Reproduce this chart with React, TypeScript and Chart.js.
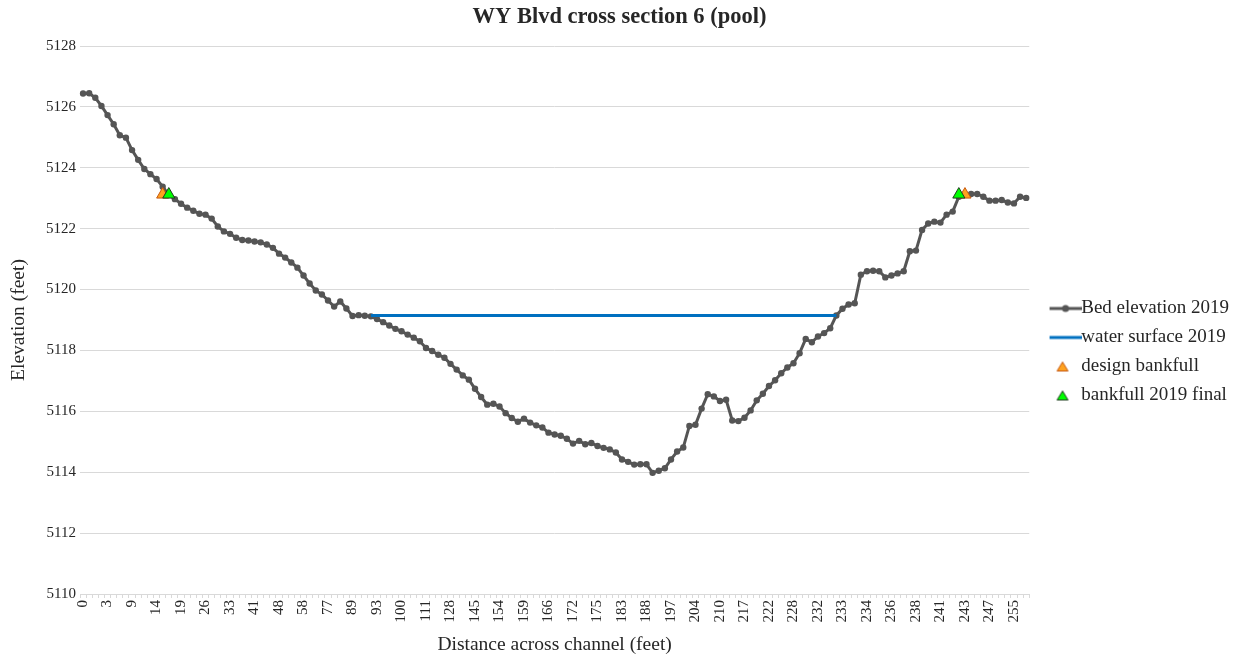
import React, { useEffect, useRef } from "react";
import { Chart, registerables } from "chart.js";

Chart.register(...registerables);

const distanceLabels = [
  "0", "1", "2", "2", "3", "5", "6", "8", "9", "10", "12", "13", "14", "15", "16", "17",
  "19", "20", "22", "24", "26", "27", "29", "31", "33", "35", "37", "39", "41", "43", "45", "46",
  "48", "51", "53", "56", "58", "63", "68", "72", "77", "80", "83", "86", "89", "90", "91", "92",
  "93", "95", "97", "98", "100", "103", "106", "108", "111", "115", "119", "124", "128", "132", "136", "141",
  "145", "147", "150", "152", "154", "155", "156", "158", "159", "161", "163", "164", "166", "168", "169", "171",
  "172", "173", "174", "174", "175", "177", "179", "181", "183", "184", "185", "187", "188", "190", "192", "195",
  "197", "199", "200", "202", "204", "205", "207", "208", "210", "212", "214", "215", "217", "218", "219", "221",
  "222", "223", "225", "226", "228", "229", "230", "231", "232", "232", "232", "233", "233", "233", "234", "234",
  "234", "235", "235", "236", "236", "237", "237", "238", "238", "239", "240", "240", "241", "242", "242", "243",
  "243", "244", "245", "246", "247", "249", "251", "253", "255", "256", "257",
];

const bedElevation2019 = [
  5126.44, 5126.45, 5126.30, 5126.03, 5125.73, 5125.43, 5125.07, 5124.99, 5124.58, 5124.26,
  5123.96, 5123.79, 5123.63, 5123.38, 5123.11, 5122.97, 5122.82, 5122.69, 5122.59, 5122.49,
  5122.46, 5122.33, 5122.07, 5121.91, 5121.83, 5121.70, 5121.63, 5121.61, 5121.58, 5121.55,
  5121.48, 5121.37, 5121.18, 5121.05, 5120.89, 5120.72, 5120.46, 5120.20, 5119.97, 5119.84,
  5119.64, 5119.44, 5119.61, 5119.38, 5119.13, 5119.16, 5119.14, 5119.12, 5119.03, 5118.93,
  5118.82, 5118.71, 5118.63, 5118.52, 5118.42, 5118.30, 5118.08, 5117.98, 5117.86, 5117.76,
  5117.56, 5117.37, 5117.18, 5117.04, 5116.74, 5116.47, 5116.22, 5116.25, 5116.16, 5115.94,
  5115.78, 5115.66, 5115.76, 5115.63, 5115.54, 5115.47, 5115.30, 5115.24, 5115.20, 5115.10,
  5114.94, 5115.03, 5114.92, 5114.96, 5114.86, 5114.80, 5114.75, 5114.65, 5114.42, 5114.34,
  5114.25, 5114.26, 5114.26, 5113.98, 5114.05, 5114.13, 5114.42, 5114.68, 5114.81, 5115.52,
  5115.56, 5116.09, 5116.56, 5116.49, 5116.34, 5116.38, 5115.70, 5115.68, 5115.79, 5116.03,
  5116.36, 5116.58, 5116.83, 5117.02, 5117.25, 5117.44, 5117.58, 5117.91, 5118.38, 5118.27,
  5118.46, 5118.57, 5118.73, 5119.15, 5119.37, 5119.51, 5119.55, 5120.49, 5120.60, 5120.62,
  5120.60, 5120.40, 5120.46, 5120.53, 5120.60, 5121.26, 5121.28, 5121.96, 5122.17, 5122.23,
  5122.20, 5122.46, 5122.56, 5123.05, 5123.11, 5123.14, 5123.14, 5123.05, 5122.92, 5122.92,
  5122.94, 5122.86, 5122.83, 5123.05, 5123.01,
];

const waterSurfaceIdx = [47, 123];
const waterSurfaceElev = [5119.15, 5119.15];

const designBankfullIdx = [13, 144];
const designBankfullElev = [5123.12, 5123.12];

const finalBankfullIdx = [14, 143];
const finalBankfullElev = [5123.12, 5123.12];

const yTicks = [5110, 5112, 5114, 5116, 5118, 5120, 5122, 5124, 5126, 5128];

const BED_COLOR = "#555555";
const WATER_COLOR = "#0070C0";
const DESIGN_FILL = "#FFA21F";
const DESIGN_BORDER = "#C65911";
const FINAL_FILL = "#00FF00";
const FINAL_BORDER = "#1f3d1f";
const TEXT_COLOR = "#262626";
const GRID_COLOR = "#d9d9d9";
const FONT = "'Liberation Serif', 'Times New Roman', serif";

function sparse(idx: number[], vals: number[]) {
  return distanceLabels.map((_, i) => {
    const k = idx.indexOf(i);
    return k >= 0 ? vals[k] : null;
  });
}

// legend icons: 52px wide, drawn content sits in the right part (x 20..52)
function lineIcon(color: string, withDot: boolean) {
  const c = document.createElement("canvas");
  c.width = 52;
  c.height = 10;
  const ctx = c.getContext("2d")!;
  ctx.strokeStyle = color;
  ctx.lineWidth = 3;
  ctx.beginPath();
  ctx.moveTo(20, 5);
  ctx.lineTo(52, 5);
  ctx.stroke();
  if (withDot) {
    ctx.fillStyle = color;
    ctx.beginPath();
    ctx.arc(36, 5, 3.5, 0, Math.PI * 2);
    ctx.fill();
  }
  return c;
}

function triIcon(fill: string, border: string) {
  const c = document.createElement("canvas");
  c.width = 52;
  c.height = 12;
  const ctx = c.getContext("2d")!;
  ctx.fillStyle = fill;
  ctx.strokeStyle = border;
  ctx.lineWidth = 1;
  ctx.beginPath();
  ctx.moveTo(33, 1.5);
  ctx.lineTo(38.5, 10.5);
  ctx.lineTo(27.5, 10.5);
  ctx.closePath();
  ctx.fill();
  ctx.stroke();
  return c;
}

export default function App() {
  const ref = useRef<HTMLCanvasElement | null>(null);

  useEffect(() => {
    if (!ref.current) return;
    const icons = [
      lineIcon(BED_COLOR, true),
      lineIcon(WATER_COLOR, false),
      triIcon(DESIGN_FILL, DESIGN_BORDER),
      triIcon(FINAL_FILL, FINAL_BORDER),
    ];
    const chart = new Chart(ref.current, {
      type: "line",
      data: {
        labels: distanceLabels,
        datasets: [
          {
            label: "Bed elevation 2019",
            data: bedElevation2019,
            borderColor: BED_COLOR,
            backgroundColor: BED_COLOR,
            borderWidth: 3,
            pointRadius: 3.2,
            pointBorderWidth: 0,
            pointBackgroundColor: BED_COLOR,
            tension: 0,
            order: 3,
          },
          {
            label: "water surface 2019",
            data: sparse(waterSurfaceIdx, waterSurfaceElev),
            borderColor: WATER_COLOR,
            backgroundColor: WATER_COLOR,
            borderWidth: 3,
            pointRadius: 0,
            spanGaps: true,
            order: 2,
          },
          {
            label: "design bankfull",
            data: sparse(designBankfullIdx, designBankfullElev),
            showLine: false,
            pointStyle: "triangle",
            pointRadius: 7,
            pointBackgroundColor: DESIGN_FILL,
            pointBorderColor: DESIGN_BORDER,
            pointBorderWidth: 1,
            borderColor: DESIGN_BORDER,
            backgroundColor: DESIGN_FILL,
            order: 1,
          },
          {
            label: "bankfull 2019 final",
            data: sparse(finalBankfullIdx, finalBankfullElev),
            showLine: false,
            pointStyle: "triangle",
            pointRadius: 7,
            pointBackgroundColor: FINAL_FILL,
            pointBorderColor: FINAL_BORDER,
            pointBorderWidth: 1,
            borderColor: FINAL_BORDER,
            backgroundColor: FINAL_FILL,
            order: 0,
          },
        ],
      },
      options: {
        animation: false,
        responsive: true,
        maintainAspectRatio: false,
        layout: { padding: { left: 0, right: 4, top: 0, bottom: 0 } },
        plugins: {
          title: {
            display: true,
            text: "WY Blvd cross section 6 (pool)",
            color: TEXT_COLOR,
            font: { family: FONT, size: 22.5, weight: "bold" },
            padding: { top: 4, bottom: 15 },
          },
          tooltip: { enabled: false },
          legend: {
            position: "right",
            align: "center",
            title: {
              display: true,
              text: "",
              font: { size: 10 },
              padding: { top: 0, bottom: 33 },
            },
            labels: {
              usePointStyle: true,
              pointStyleWidth: 32.5,
              padding: 10,
              color: TEXT_COLOR,
              font: { family: FONT, size: 19 },
              sort: (a: any, b: any) => a.datasetIndex - b.datasetIndex,
              generateLabels: (ch: any) =>
                ch.data.datasets.map((ds: any, i: number) => ({
                  text: ds.label,
                  datasetIndex: i,
                  pointStyle: icons[i],
                  fillStyle: "transparent",
                  strokeStyle: "transparent",
                  lineWidth: 0,
                  fontColor: TEXT_COLOR,
                  hidden: false,
                })),
            },
          },
        },
        scales: {
          x: {
            type: "category",
            offset: true,
            afterFit: (s: any) => {
              s.height = 65;
            },
            grid: {
              display: true,
              drawOnChartArea: false,
              drawTicks: true,
              tickLength: 4,
              color: GRID_COLOR,
              offset: true,
            },
            border: { display: true, color: GRID_COLOR, width: 1 },
            ticks: {
              autoSkip: false,
              minRotation: 90,
              maxRotation: 90,
              padding: 2,
              color: TEXT_COLOR,
              font: { family: FONT, size: 15 },
              callback: function (this: any, value: any, index: number) {
                return index % 4 === 0 ? distanceLabels[index] : "";
              },
            },
            title: {
              display: true,
              text: "Distance across channel (feet)",
              color: TEXT_COLOR,
              font: { family: FONT, size: 19.5 },
              padding: { top: 2, bottom: 2 },
            },
          },
          y: {
            type: "linear",
            min: yTicks[0],
            max: yTicks[yTicks.length - 1],
            afterFit: (s: any) => {
              s.width = 80;
            },
            afterBuildTicks: (s: any) => {
              s.ticks = yTicks.map((v) => ({ value: v }));
            },
            grid: { color: GRID_COLOR, drawTicks: false },
            border: { display: false },
            ticks: {
              padding: 4,
              color: TEXT_COLOR,
              font: { family: FONT, size: 15 },
              callback: (v: any) => String(v),
            },
            title: {
              display: true,
              text: "Elevation (feet)",
              color: TEXT_COLOR,
              font: { family: FONT, size: 19.5 },
              padding: { top: 7, bottom: 0 },
            },
          },
        },
      },
    });
    return () => chart.destroy();
  }, []);

  return (
    <div style={{ position: "absolute", left: 0, top: 0, width: 1243, height: 659, background: "#fff" }}>
      <canvas ref={ref} />
    </div>
  );
}
